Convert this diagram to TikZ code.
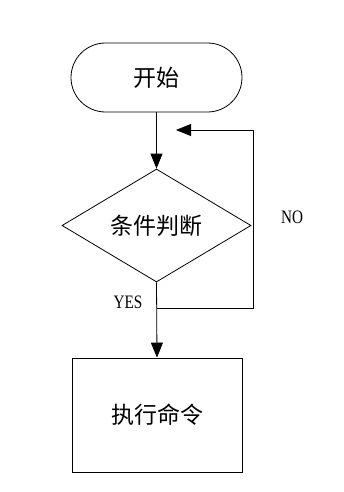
\documentclass[tikz,border=0pt]{standalone}
\usepackage{fontspec}
\setmainfont{Liberation Serif}
\newfontfamily\cjk{Noto Sans CJK SC}[FakeBold=0]
\usetikzlibrary{arrows.meta,shapes.geometric}
\begin{document}
\begin{tikzpicture}[x=1pt,y=-1pt,
  line width=0.8pt,
  tip/.style={-{Triangle[length=15pt,width=12pt]}},
  cjktext/.style={font=\cjk\fontsize{23}{26}\selectfont},
  lbl/.style={font=\fontsize{19}{21}\selectfont, inner sep=0pt}]
\useasboundingbox[fill=white] (0,0) rectangle (343,492);
\node[draw, rounded corners=34.5pt, minimum width=171pt, minimum height=69pt, cjktext, inner sep=0pt] (start) at (156.5,77.5) {开始};
\node[draw, diamond, aspect=1.68, minimum width=189pt, minimum height=113pt, cjktext, inner sep=0pt] (cond) at (156.5,225.5) {条件判断};
\node[draw, minimum width=170pt, minimum height=114pt, cjktext, inner sep=0pt] (exec) at (157,415) {执行命令};
\coordinate (loopin) at (176,130);
\coordinate (br) at (253,308);
\coordinate (tr) at (253,130);
\coordinate (jn) at (156.5,308);
\draw[tip] (start.south) -- (cond.north);
\draw[tip] (cond.south) -- (exec.north);
\draw[tip] (jn) -- (br) -- (tr) -- (loopin);
\node[lbl] (no) at (292,217) {\scalebox{0.8}[1]{NO}};
\node[lbl] (yes) at (128,302) {\scalebox{0.8}[1]{YES}};
\end{tikzpicture}
\end{document}
